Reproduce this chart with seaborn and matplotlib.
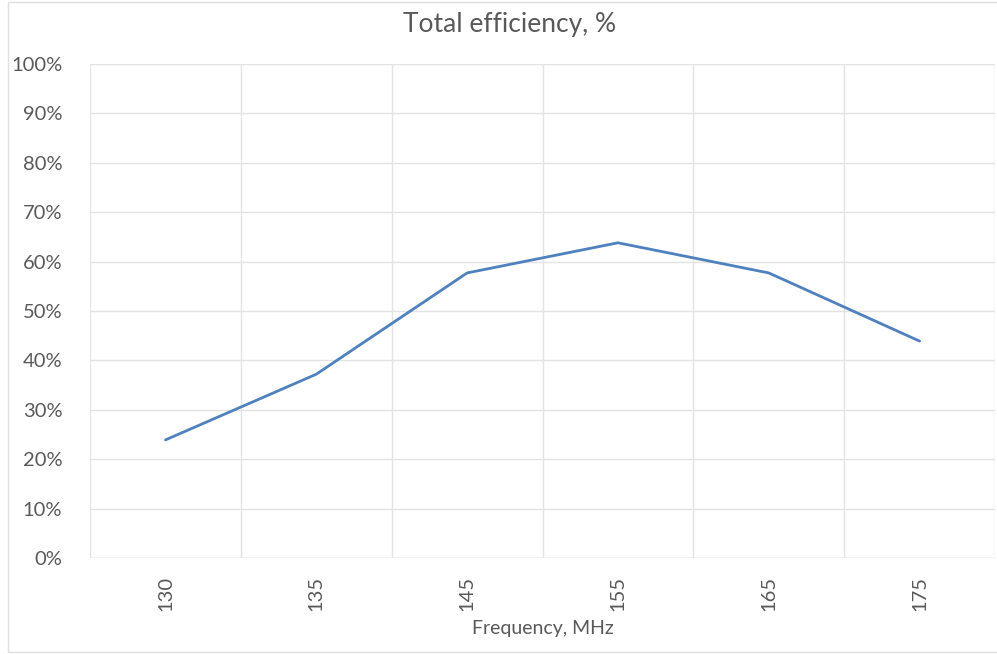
import matplotlib
matplotlib.use("Agg")
import matplotlib.pyplot as plt
import seaborn as sns
import pandas as pd
import numpy as np
from matplotlib.ticker import FuncFormatter, MultipleLocator, FixedLocator

frequencies = ["130", "135", "145", "155", "165", "175"]
efficiency = [23.9, 37.2, 57.7, 63.8, 57.7, 43.9]

sns.set_theme(style="white")
plt.rcParams['font.family'] = ['Lato', 'DejaVu Sans']

df = pd.DataFrame({"pos": np.arange(len(frequencies)), "eff": efficiency})

fig = plt.figure(figsize=(9.97, 6.54), dpi=100)
ax = fig.add_axes([0.0903, 0.1468, 0.9077, 0.7554])

sns.lineplot(data=df, x="pos", y="eff", ax=ax, color="#4F81BD", linewidth=2.0)

ax.set_xlim(-0.5, len(frequencies) - 0.5)
ax.set_ylim(0, 100)
ax.yaxis.set_major_locator(MultipleLocator(10))
ax.yaxis.set_major_formatter(FuncFormatter(lambda v, p: f"{int(round(v))}%"))
ax.set_xticks(np.arange(len(frequencies)))
ax.set_xticklabels(frequencies, rotation=90)
ax.xaxis.set_minor_locator(FixedLocator(np.arange(-0.5, len(frequencies), 1.0)))

ax.grid(False)
ax.grid(True, which="major", axis="y", color="#E3E3E3", linewidth=1)
ax.grid(True, which="minor", axis="x", color="#E3E3E3", linewidth=1)
for s in ax.spines.values():
    s.set_visible(False)
ax.axhline(0, color="#D9D9D9", linewidth=1, zorder=0)

ax.tick_params(axis="both", which="both", length=0, labelsize=14.5, colors="#595959")
ax.tick_params(axis="y", pad=20)
ax.tick_params(axis="x", pad=13)

ax.set_xlabel("Frequency, MHz", fontsize=14, color="#595959", labelpad=6)
ax.set_ylabel("")
fig.suptitle("Total efficiency, %", fontsize=19, color="#595959", x=0.511, y=0.982)

fig.patches.append(plt.Rectangle((0.008, 0.003), 1.2, 0.994, transform=fig.transFigure,
                                 fill=False, edgecolor="#E0E0E0", linewidth=1))

fig.savefig("out.png", dpi=100)
